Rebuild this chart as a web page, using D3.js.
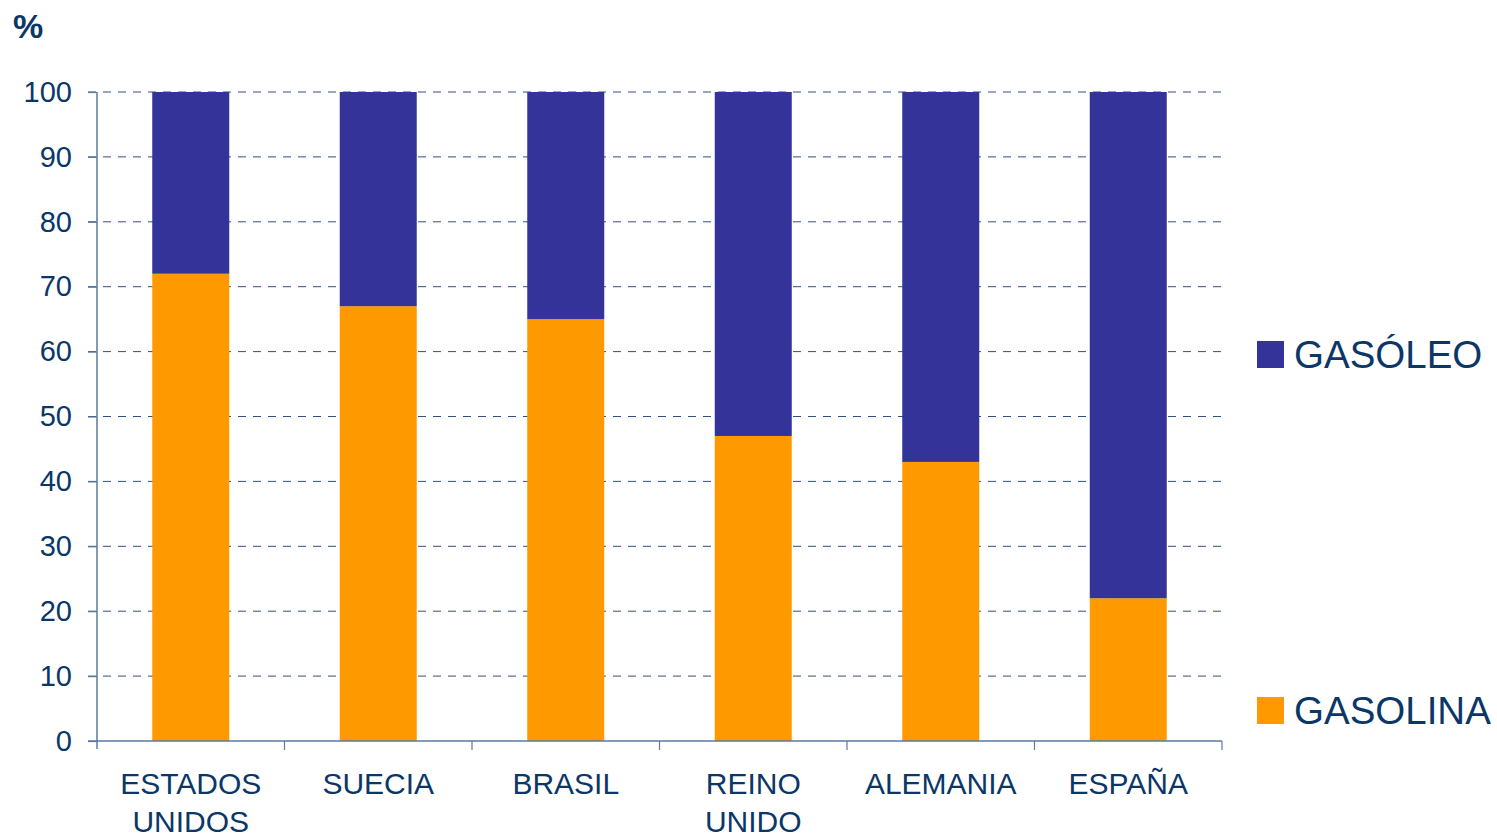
<!DOCTYPE html>
<html><head><meta charset="utf-8">
<script src="https://cdn.jsdelivr.net/npm/d3@7"></script>
<style>body{margin:0;background:#fff}svg{display:block}</style>
</head><body>
<svg id="c" width="1497" height="837"></svg>
<script>
const categories = [["ESTADOS","UNIDOS"],["SUECIA"],["BRASIL"],["REINO","UNIDO"],["ALEMANIA"],["ESPAÑA"]];
const gasolina = [72, 67, 65, 47, 43, 22];
const gasoleo = [28, 33, 35, 53, 57, 78];
const yTicks = [0,10,20,30,40,50,60,70,80,90,100];
const seriesNames = ["GASÓLEO","GASOLINA"];
const colors = {"GASOLINA":"#FF9900","GASÓLEO":"#333399"};

const svg = d3.select("#c");
const font = "Liberation Sans, Arial, sans-serif";
const textColor = "#0a3768";
const axisColor = "#5a7aa0";
const gridColor = "#2f5080";

const x = d3.scaleBand().domain(d3.range(categories.length)).range([97,1222]);
const y = d3.scaleLinear().domain([0,100]).range([741,92]);
const barW = 77;

// gridlines
svg.append("g").selectAll("line").data(yTicks.filter(d=>d>0)).join("line")
  .attr("x1",88).attr("x2",1222).attr("y1",d=>y(d)).attr("y2",d=>y(d))
  .attr("stroke",gridColor).attr("stroke-width",1).attr("stroke-dasharray","8,7");

// bars
const data = categories.map((c,i)=>({i, gasolina:gasolina[i], gasoleo:gasoleo[i]}));
const stack = d3.stack().keys(["gasolina","gasoleo"])(data);
const keyName = {gasolina:"GASOLINA", gasoleo:"GASÓLEO"};
svg.append("g").selectAll("g").data(stack).join("g")
  .attr("fill",s=>colors[keyName[s.key]])
  .selectAll("rect").data(s=>s).join("rect")
  .attr("x",d=>x(d.data.i)+x.bandwidth()/2-barW/2)
  .attr("width",barW)
  .attr("y",d=>y(d[1]))
  .attr("height",d=>y(d[0])-y(d[1]));

// y axis
const yAxis = d3.axisLeft(y).tickValues(yTicks).tickSize(9).tickPadding(16).tickSizeOuter(0);
const gy = svg.append("g").attr("transform","translate(97,0)").call(yAxis);
gy.select(".domain").remove();
gy.append("line").attr("x1",0).attr("x2",0).attr("y1",92).attr("y2",749).attr("stroke",axisColor).attr("stroke-width",1.5);
gy.selectAll(".tick line").attr("stroke",axisColor).attr("stroke-width",1.2);
gy.selectAll(".tick text").attr("fill",textColor).attr("font-family",font).attr("font-size",29);

// x axis
const gx = svg.append("g");
gx.append("line").attr("x1",88).attr("x2",1222).attr("y1",741).attr("y2",741).attr("stroke",axisColor).attr("stroke-width",1.5);
const bounds = d3.range(categories.length+1).map(i=> i<categories.length ? x(i) : x(categories.length-1)+x.bandwidth());
gx.selectAll("line.t").data(bounds.slice(1)).join("line").attr("class","t")
  .attr("x1",d=>d).attr("x2",d=>d).attr("y1",741).attr("y2",750)
  .attr("stroke",axisColor).attr("stroke-width",1.2);
const labels = gx.selectAll("text").data(categories).join("text")
  .attr("x",(d,i)=>x(i)+x.bandwidth()/2)
  .attr("y",794).attr("text-anchor","middle")
  .attr("fill",textColor).attr("font-family",font).attr("font-size",30);
labels.selectAll("tspan").data(d=>d).join("tspan")
  .attr("x",function(){return this.parentNode.getAttribute("x");})
  .attr("dy",(d,j)=>j===0?0:38).text(d=>d);

// unit label
svg.append("text").attr("x",13).attr("y",38).attr("font-family",font).attr("font-weight","bold")
  .attr("font-size",34).attr("fill",textColor).text("%");

// legend
const legY = {"GASÓLEO":341,"GASOLINA":697};
const lg = svg.append("g").selectAll("g").data(seriesNames).join("g");
lg.append("rect").attr("x",1257).attr("y",d=>legY[d]).attr("width",27).attr("height",27).attr("fill",d=>colors[d]);
lg.append("text").attr("x",1294).attr("y",d=>legY[d]+27).attr("font-family",font).attr("font-size",38.5)
  .attr("fill",textColor).text(d=>d);
</script>
</body></html>
